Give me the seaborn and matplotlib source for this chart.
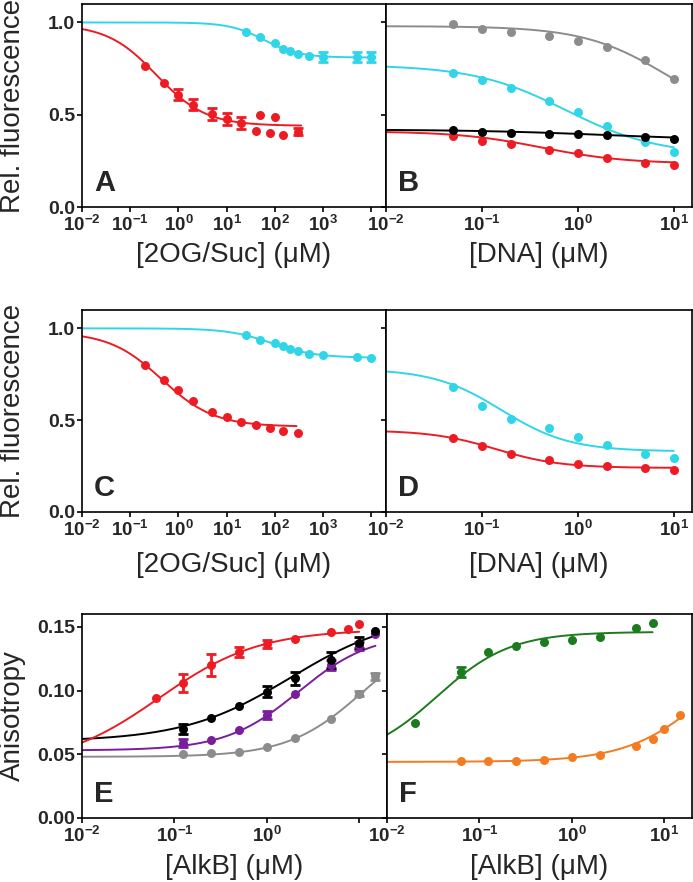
import numpy as np
import pandas as pd
import seaborn as sns
import matplotlib
matplotlib.use("Agg")
import matplotlib.pyplot as plt
from matplotlib.ticker import FixedLocator, FixedFormatter, NullLocator

RED = "#ED1C24"
CYAN = "#30D5E8"
GRAY = "#8C8C8C"
BLACK = "#000000"
PURPLE = "#7A1E9E"
GREEN = "#1E7A1E"
ORANGE = "#F47B20"

# fit parameters: [value at low x, value at high x, midpoint, hill slope, curve from, curve to]

# Panel A - [2OG/Suc]
a_red_x = [0.2, 0.5, 1, 2, 5, 10, 20, 40, 50, 80, 100, 150, 300]
a_red_y = [0.763, 0.670, 0.609, 0.553, 0.504, 0.477, 0.455, 0.413, 0.500, 0.400, 0.487, 0.391, 0.409]
a_red_err = [0, 0, 0.03, 0.03, 0.03, 0.03, 0.03, 0, 0, 0, 0, 0, 0.02]
a_red_fit = [0.99, 0.44, 0.35, 0.85, 0.01, 350]
a_cyan_x = [25, 50, 100, 150, 200, 300, 500, 1000, 5000, 10000]
a_cyan_y = [0.949, 0.920, 0.886, 0.857, 0.844, 0.830, 0.817, 0.813, 0.813, 0.813]
a_cyan_err = [0, 0, 0, 0, 0, 0, 0, 0.025, 0.025, 0.025]
a_cyan_fit = [1.0, 0.81, 60, 1.2, 0.01, 12000]

# Panel B - [DNA]
b_x = [0.05, 0.1, 0.2, 0.5, 1, 2, 5, 10]
b_gray_y = [0.989, 0.962, 0.947, 0.929, 0.900, 0.866, 0.795, 0.696]
b_cyan_y = [0.727, 0.687, 0.647, 0.572, 0.513, 0.440, 0.350, 0.300]
b_black_y = [0.418, 0.408, 0.400, 0.397, 0.393, 0.388, 0.380, 0.370]
b_red_y = [0.386, 0.360, 0.341, 0.310, 0.290, 0.268, 0.241, 0.230]
b_gray_fit = [0.98, 0.45, 8.5, 1.0, 0.01, 10]
b_cyan_fit = [0.77, 0.28, 0.75, 0.9, 0.01, 10]
b_black_fit = [0.42, 0.36, 2.0, 0.6, 0.01, 10]
b_red_fit = [0.41, 0.235, 0.42, 1.0, 0.01, 10]

# Panel C - [2OG/Suc]
c_red_x = [0.2, 0.5, 1, 2, 5, 10, 20, 40, 80, 150, 300]
c_red_y = [0.799, 0.721, 0.663, 0.605, 0.545, 0.515, 0.491, 0.473, 0.455, 0.442, 0.428]
c_red_fit = [0.98, 0.465, 0.45, 0.8, 0.01, 280]
c_cyan_x = [25, 50, 100, 150, 200, 300, 500, 1000, 5000, 10000]
c_cyan_y = [0.962, 0.938, 0.920, 0.906, 0.890, 0.877, 0.862, 0.855, 0.844, 0.839]
c_cyan_fit = [1.0, 0.84, 85, 0.95, 0.01, 11000]

# Panel D - [DNA]
d_x = [0.05, 0.1, 0.2, 0.5, 1, 2, 5, 10]
d_cyan_y = [0.681, 0.576, 0.509, 0.458, 0.409, 0.364, 0.314, 0.292]
d_red_y = [0.404, 0.359, 0.315, 0.283, 0.264, 0.250, 0.237, 0.228]
d_cyan_fit = [0.78, 0.33, 0.16, 1.22, 0.01, 10]
d_red_fit = [0.445, 0.24, 0.14, 1.3, 0.01, 10]

# Panel E - anisotropy vs [AlkB]
e_red_x = [0.0625, 0.125, 0.25, 0.5, 1, 2, 5, 7.5, 10]
e_red_y = [0.0944, 0.1057, 0.120, 0.130, 0.1366, 0.1405, 0.1455, 0.1486, 0.152]
e_red_err = [0, 0.007, 0.009, 0.004, 0.003, 0, 0, 0, 0]
e_x = [0.125, 0.25, 0.5, 1, 2, 5, 10, 15]
e_black_y = [0.0696, 0.0788, 0.0879, 0.0992, 0.1096, 0.124, 0.1376, 0.147]
e_black_err = [0.004, 0, 0, 0.004, 0.005, 0.006, 0.004, 0]
e_purple_y = [0.059, 0.0612, 0.069, 0.0808, 0.097, 0.120, 0.135, 0.144]
e_purple_err = [0.003, 0, 0, 0.003, 0, 0.004, 0.003, 0]
e_gray_y = [0.050, 0.0508, 0.052, 0.056, 0.0626, 0.0777, 0.0973, 0.111]
e_gray_err = [0, 0, 0, 0, 0, 0, 0.002, 0.003]
e_red_fit = [0.04, 0.148, 0.068, 0.8, 0.01, 10]
e_black_fit = [0.06, 0.16, 1.8, 0.75, 0.01, 15]
e_purple_fit = [0.053, 0.145, 2.2, 1.1, 0.01, 15]
e_gray_fit = [0.048, 0.15, 11, 1.07, 0.01, 15]

# Panel F - anisotropy vs [AlkB]
f_green_x = [0.02, 0.0625, 0.125, 0.25, 0.5, 1, 2, 5, 7.5]
f_green_y = [0.0748, 0.1148, 0.130, 0.135, 0.1379, 0.1397, 0.1423, 0.149, 0.1533]
f_green_err = [0, 0.004, 0, 0, 0, 0, 0, 0, 0]
f_green_fit = [0.045, 0.146, 0.035, 1.1, 0.01, 7.5]
f_orange_x = [0.0625, 0.125, 0.25, 0.5, 1, 2, 5, 7.5, 10, 15]
f_orange_y = [0.045, 0.045, 0.0447, 0.0458, 0.0479, 0.0494, 0.0568, 0.062, 0.0696, 0.0808]
f_orange_fit = [0.044, 0.15, 31, 1.0, 0.01, 15]

# axis ticks
wide_ticks = [1e-2, 1e-1, 1e0, 1e1, 1e2, 1e3, 1e4]
wide_labels = [r"$10^{-2}$", r"$10^{-1}$", r"$10^{0}$", r"$10^{1}$", r"$10^{2}$", r"$10^{3}$", ""]
narrow_ticks = [1e-2, 1e-1, 1e0, 1e1]
narrow_labels = [r"$10^{-2}$", r"$10^{-1}$", r"$10^{0}$", r"$10^{1}$"]
e_labels = [r"$10^{-2}$", r"$10^{-1}$", r"$10^{0}$", ""]
fl_ticks = [0.0, 0.5, 1.0]
fl_labels = ["0.0", "0.5", "1.0"]
an_ticks = [0.0, 0.05, 0.10, 0.15]
an_labels = ["0.00", "0.05", "0.10", "0.15"]

sns.set_style("ticks")
plt.rcParams["font.family"] = ["Liberation Sans", "DejaVu Sans"]
plt.rcParams["font.weight"] = "bold"
plt.rcParams["mathtext.fontset"] = "custom"
plt.rcParams["mathtext.rm"] = "Liberation Sans:bold"
plt.rcParams["mathtext.it"] = "Liberation Sans:bold"
plt.rcParams["mathtext.bf"] = "Liberation Sans:bold"
plt.rcParams["mathtext.default"] = "rm"

fig = plt.figure(figsize=(6.93, 8.82), dpi=100)
W, H = 693.0, 882.0


def add_ax(x0, x1, top, bottom):
    return fig.add_axes([x0 / W, 1 - bottom / H, (x1 - x0) / W, (bottom - top) / H])


def fit_curve(fit):
    lo, hi, mid, slope, x0, x1 = fit
    x = np.logspace(np.log10(x0), np.log10(x1), 200)
    y = hi + (lo - hi) / (1 + (x / mid) ** slope)
    return x, y


def draw(ax, x, y, fit, color, err=None):
    cx, cy = fit_curve(fit)
    sns.lineplot(x=cx, y=cy, ax=ax, color=color, lw=1.4, estimator=None, sort=False, zorder=2)
    if err is not None:
        df = pd.DataFrame({"x": x, "y": y, "e": err})
        df = df[df["e"] > 0]
        ax.errorbar(df["x"], df["y"], yerr=df["e"], fmt="none", ecolor=color,
                    elinewidth=2.0, capsize=3.5, capthick=2.0, zorder=3)
    sns.scatterplot(x=x, y=y, ax=ax, color=color, s=42, linewidth=0, zorder=4)


def style(ax, xlim, xticks, xlabels, ylim, yticks, ylabels, letter, xlabel, xlab_y, ylabel=None):
    ax.set_xscale("log")
    ax.set_xlim(xlim)
    ax.set_ylim(ylim)
    ax.xaxis.set_major_locator(FixedLocator(xticks))
    ax.xaxis.set_major_formatter(FixedFormatter(xlabels))
    ax.xaxis.set_minor_locator(NullLocator())
    ax.yaxis.set_major_locator(FixedLocator(yticks))
    ax.yaxis.set_major_formatter(FixedFormatter(ylabels))
    ax.tick_params(direction="out", length=3.5, width=1.2, color="black")
    ax.tick_params(axis="x", labelsize=13.5, pad=2)
    ax.tick_params(axis="y", labelsize=14, pad=1.5)
    for s in ax.spines.values():
        s.set_linewidth(1.2)
        s.set_color("black")
    ax.set_xlabel(xlabel, fontsize=20, fontweight="normal")
    ax.xaxis.set_label_coords(0.5, xlab_y)
    ax.xaxis.label.set_va("center")
    if ylabel:
        ax.set_ylabel(ylabel, fontsize=20, fontweight="normal")
        ax.yaxis.set_label_coords(-0.227, 0.5)
        ax.yaxis.label.set_va("center")
    else:
        ax.set_ylabel("")
    ax.text(0.04, 0.05, letter, transform=ax.transAxes, fontsize=21, fontweight="bold",
            ha="left", va="bottom")


ax_a = add_ax(82, 386, 4, 207)
ax_b = add_ax(386, 692, 4, 207)
ax_c = add_ax(82, 386, 310, 512)
ax_d = add_ax(386, 692, 310, 512)
ax_e = add_ax(82, 387, 614, 818)
ax_f = add_ax(387, 692, 614, 818)
for ax in (ax_a, ax_b, ax_c, ax_d, ax_e, ax_f):
    ax.set_xscale("log")

draw(ax_a, a_cyan_x, a_cyan_y, a_cyan_fit, CYAN, a_cyan_err)
draw(ax_a, a_red_x, a_red_y, a_red_fit, RED, a_red_err)

draw(ax_b, b_x, b_gray_y, b_gray_fit, GRAY)
draw(ax_b, b_x, b_cyan_y, b_cyan_fit, CYAN)
draw(ax_b, b_x, b_red_y, b_red_fit, RED)
draw(ax_b, b_x, b_black_y, b_black_fit, BLACK)

draw(ax_c, c_cyan_x, c_cyan_y, c_cyan_fit, CYAN)
draw(ax_c, c_red_x, c_red_y, c_red_fit, RED)

draw(ax_d, d_x, d_cyan_y, d_cyan_fit, CYAN)
draw(ax_d, d_x, d_red_y, d_red_fit, RED)

draw(ax_e, e_x, e_gray_y, e_gray_fit, GRAY, e_gray_err)
draw(ax_e, e_x, e_purple_y, e_purple_fit, PURPLE, e_purple_err)
draw(ax_e, e_x, e_black_y, e_black_fit, BLACK, e_black_err)
draw(ax_e, e_red_x, e_red_y, e_red_fit, RED, e_red_err)

draw(ax_f, f_orange_x, f_orange_y, f_orange_fit, ORANGE)
draw(ax_f, f_green_x, f_green_y, f_green_fit, GREEN, f_green_err)

xl_suc = "[2OG/Suc] (\u03bcM)"
xl_dna = "[DNA] (\u03bcM)"
xl_alkb = "[AlkB] (\u03bcM)"

style(ax_a, (0.01, 2e4), wide_ticks, wide_labels, (0, 1.1), fl_ticks, fl_labels, "A",
      xl_suc, -0.235, "Rel. fluorescence")
style(ax_b, (0.01, 15.5), narrow_ticks, narrow_labels, (0, 1.1), fl_ticks, [""] * 3, "B",
      xl_dna, -0.235)
style(ax_c, (0.01, 2e4), wide_ticks, wide_labels, (0, 1.1), fl_ticks, fl_labels, "C",
      xl_suc, -0.26, "Rel. fluorescence")
style(ax_d, (0.01, 15.5), narrow_ticks, narrow_labels, (0, 1.1), fl_ticks, [""] * 3, "D",
      xl_dna, -0.26)
style(ax_e, (0.01, 20), narrow_ticks, e_labels, (0, 0.16), an_ticks, an_labels, "E",
      xl_alkb, -0.240, "Anisotropy")
style(ax_f, (0.01, 20), narrow_ticks, narrow_labels, (0, 0.16), an_ticks, [""] * 4, "F",
      xl_alkb, -0.240)

fig.savefig("out.png", dpi=100)
